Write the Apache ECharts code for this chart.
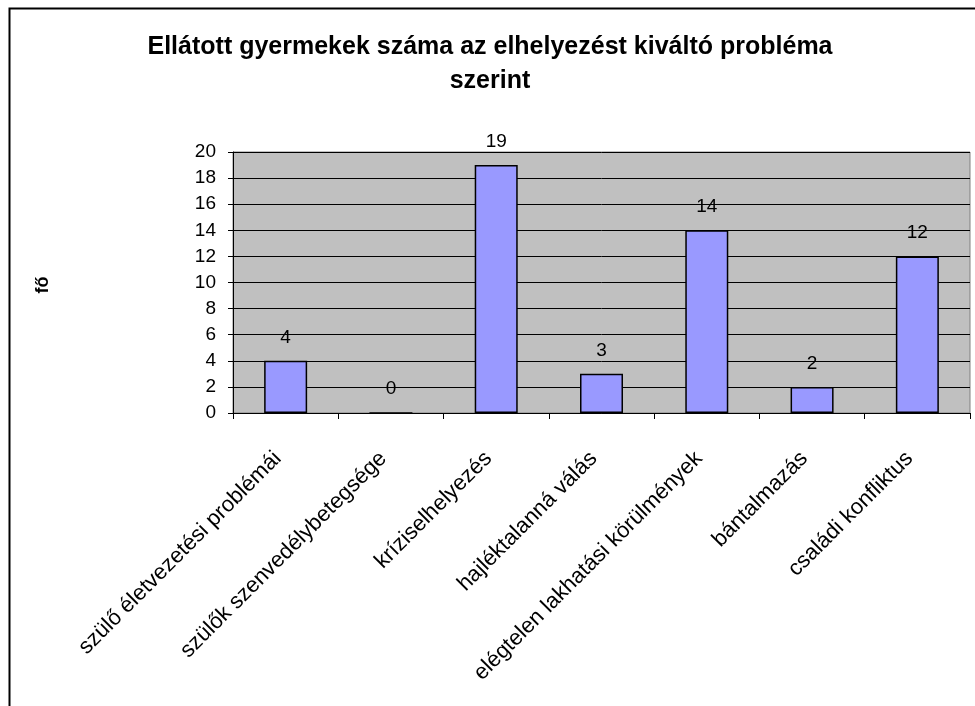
<!DOCTYPE html>
<html>
<head>
<meta charset="utf-8">
<script src="https://cdn.jsdelivr.net/npm/echarts@6/dist/echarts.min.js"></script>
<style>
  html, body { margin: 0; padding: 0; background: #fff; }
  #chart { width: 975px; height: 706px; }
</style>
</head>
<body>
<div id="chart"></div>
<script>
// kategóriák és értékek
const categories = [
  'szülő életvezetési problémái',
  'szülők szenvedélybetegsége',
  'kríziselhelyezés',
  'hajléktalanná válás',
  'elégtelen lakhatási körülmények',
  'bántalmazás',
  'családi konfliktus'
];
const values = [4, 0, 19, 3, 14, 2, 12];
const titleText = 'Ellátott gyermekek száma az elhelyezést kiváltó probléma\nszerint';
const yName = 'fő';

const chart = echarts.init(document.getElementById('chart'));
const font = 'Liberation Sans, Arial, sans-serif';

chart.setOption({
  animation: false,
  textStyle: { fontFamily: font },
  title: {
    text: titleText,
    left: 485,
    top: 25,
    textAlign: 'center',
    textStyle: { fontSize: 25, fontWeight: 'bold', color: '#000', lineHeight: 34, fontFamily: font }
  },
  // keret + tengelycím
  graphic: [
    {
      type: 'rect',
      left: 7, top: 6,
      shape: { width: 1000, height: 760 },
      style: { fill: 'none', stroke: '#000', lineWidth: 2 },
      silent: true
    },
    {
      type: 'text',
      x: 43, y: 285,
      rotation: Math.PI / 2,
      style: { text: yName, fontSize: 18, fontWeight: 'bold', fill: '#000', fontFamily: font, align: 'center', verticalAlign: 'middle' }
    }
  ],
  grid: {
    left: 233, right: 5, top: 152, bottom: 293,
    show: true,
    backgroundColor: '#C0C0C0',
    borderColor: '#808080',
    borderWidth: 1
  },
  xAxis: {
    type: 'category',
    data: categories,
    axisLine: { lineStyle: { color: '#000', width: 1 } },
    axisTick: { show: true, alignWithLabel: false, length: 6, lineStyle: { color: '#000' } },
    axisLabel: { interval: 0, rotate: 45, fontSize: 22, color: '#000', margin: 50, verticalAlign: 'bottom', fontFamily: font }
  },
  yAxis: {
    type: 'value',
    min: 0, max: 20, interval: 2,
    axisLine: { show: true, lineStyle: { color: '#000', width: 1 } },
    axisTick: { show: true, length: 5, lineStyle: { color: '#000' } },
    axisLabel: { fontSize: 19, color: '#000', margin: 17, fontFamily: font },
    splitLine: { show: true, lineStyle: { color: '#000', width: 1 } }
  },
  series: [{
    type: 'bar',
    data: values,
    barWidth: 43,
    itemStyle: { color: '#9999FF', borderColor: '#000', borderWidth: 1.5 },
    label: { show: true, position: 'top', distance: 14, fontSize: 19, color: '#000', fontFamily: font }
  }]
});
</script>
</body>
</html>
